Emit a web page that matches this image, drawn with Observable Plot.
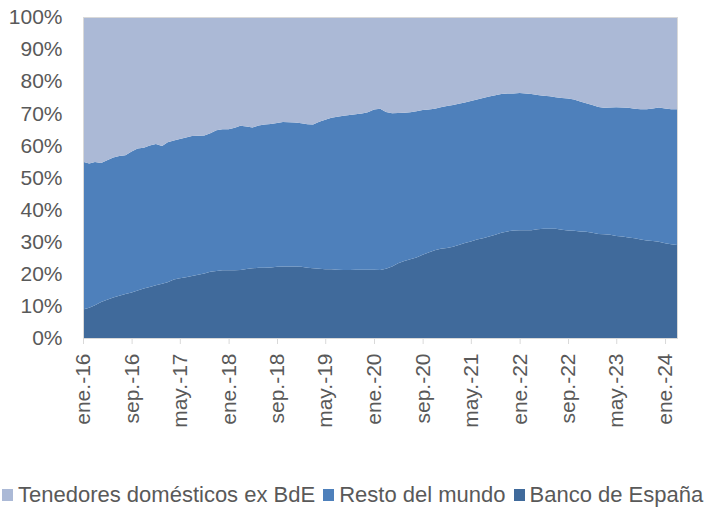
<!DOCTYPE html>
<html>
<head>
<meta charset="utf-8">
<script src="https://cdn.jsdelivr.net/npm/d3@7"></script>
<script src="https://cdn.jsdelivr.net/npm/@observablehq/plot@0.6"></script>
<style>
  html, body { margin: 0; padding: 0; background: #fff; }
  body { width: 705px; height: 510px; overflow: hidden; font-family: "Liberation Sans", Arial, sans-serif; }
  #chart svg text { fill: #595959; }
  #legend { display: flex; align-items: center; margin-top: 42px; margin-left: 2px; font-size: 22px; color: #595959; white-space: nowrap; line-height: 26px; }
  #legend .item { display: flex; align-items: center; margin-right: 8px; }
  #legend .sw { width: 11px; height: 12px; margin-right: 5px; display: inline-block; }
</style>
</head>
<body>
<div id="chart"></div>
<div id="legend"></div>
<script>
// Series names (stack order bottom -> top)
const seriesNames = ["Banco de España", "Resto del mundo", "Tenedores domésticos ex BdE"];
const seriesColors = ["#406a9b", "#4e80bb", "#abb9d6"];

// Monthly shares (%), ene-16 ... mar-24
const bancoEspana = [
  8.9, 9.4, 10.2, 11.2, 11.9, 12.6, 13.2, 13.7, 14.2, 14.8,
  15.4, 15.9, 16.4, 16.9, 17.4, 18.2, 18.6, 18.9, 19.3, 19.7,
  20.1, 20.6, 20.9, 21.1, 21.1, 21.1, 21.2, 21.5, 21.7, 21.9,
  21.9, 22.0, 22.2, 22.3, 22.3, 22.3, 22.2, 21.9, 21.7, 21.6,
  21.4, 21.4, 21.3, 21.2, 21.2, 21.3, 21.3, 21.3, 21.3, 21.2,
  21.6, 22.3, 23.3, 24.0, 24.5, 25.1, 25.9, 26.6, 27.3, 27.8,
  28.0, 28.4, 29.0, 29.6, 30.1, 30.7, 31.1, 31.6, 32.2, 32.8,
  33.2, 33.5, 33.6, 33.6, 33.6, 33.9, 34.0, 34.0, 34.0, 33.7,
  33.5, 33.4, 33.2, 33.1, 32.8, 32.4, 32.3, 32.2, 31.8, 31.6,
  31.3, 31.1, 30.7, 30.4, 30.2, 30.0, 29.5, 29.2, 29.0
];
const restoMundo = [
  46.0, 45.0, 44.6, 43.3, 43.5, 43.6, 43.5, 43.2, 43.9, 44.2,
  43.9, 44.1, 44.0, 42.9, 43.6, 43.3, 43.4, 43.6, 43.6, 43.3,
  43.0, 43.2, 43.8, 43.9, 43.9, 44.4, 44.9, 44.4, 43.9, 44.3,
  44.6, 44.7, 44.8, 45.0, 44.9, 44.8, 44.7, 44.7, 44.8, 45.8,
  46.6, 47.2, 47.6, 48.0, 48.3, 48.4, 48.6, 49.0, 49.9, 50.2,
  48.8, 47.7, 46.8, 46.2, 45.8, 45.5, 45.1, 44.6, 44.1, 44.1,
  44.3, 44.2, 44.0, 43.8, 43.7, 43.6, 43.7, 43.6, 43.4, 43.2,
  43.0, 42.7, 42.7, 42.6, 42.4, 41.8, 41.5, 41.3, 41.0, 41.1,
  41.1, 40.9, 40.5, 40.0, 39.8, 39.6, 39.4, 39.6, 40.1, 40.2,
  40.4, 40.3, 40.6, 40.9, 41.3, 41.8, 42.0, 42.1, 42.3
];
const tenedores = [
  45.1, 45.6, 45.2, 45.5, 44.6, 43.8, 43.3, 43.1, 41.9, 41.0,
  40.7, 40.0, 39.6, 40.2, 39.0, 38.5, 38.0, 37.5, 37.1, 37.0,
  36.9, 36.2, 35.3, 35.0, 35.0, 34.5, 33.9, 34.1, 34.4, 33.8,
  33.5, 33.3, 33.0, 32.7, 32.8, 32.9, 33.1, 33.4, 33.5, 32.6,
  32.0, 31.4, 31.1, 30.8, 30.5, 30.3, 30.1, 29.7, 28.8, 28.6,
  29.6, 30.0, 29.9, 29.8, 29.7, 29.4, 29.0, 28.8, 28.6, 28.1,
  27.7, 27.4, 27.0, 26.6, 26.2, 25.7, 25.2, 24.8, 24.4, 24.0,
  23.8, 23.8, 23.7, 23.8, 24.0, 24.3, 24.5, 24.7, 25.0, 25.2,
  25.4, 25.7, 26.3, 26.9, 27.4, 28.0, 28.3, 28.2, 28.1, 28.2,
  28.3, 28.6, 28.7, 28.7, 28.5, 28.2, 28.5, 28.7, 28.7
];

// X tick labels (every 8 months)
const tickLabels = ["ene.-16", "sep.-16", "may.-17", "ene.-18", "sep.-18", "may.-19",
  "ene.-20", "sep.-20", "may.-21", "ene.-22", "sep.-22", "may.-23", "ene.-24"];
const tickDates = [
  "2016-01-01", "2016-09-01", "2017-05-01", "2018-01-01", "2018-09-01", "2019-05-01",
  "2020-01-01", "2020-09-01", "2021-05-01", "2022-01-01", "2022-09-01", "2023-05-01", "2024-01-01"
].map(s => new Date(s + "T00:00:00Z"));

const yTicks = [0, 0.1, 0.2, 0.3, 0.4, 0.5, 0.6, 0.7, 0.8, 0.9, 1];

const start = new Date(Date.UTC(2016, 0, 1));
const dates = d3.utcMonth.range(start, d3.utcMonth.offset(start, bancoEspana.length));
const seriesValues = [bancoEspana, restoMundo, tenedores];

const data = [];
seriesNames.forEach((name, si) => {
  seriesValues[si].forEach((v, i) => data.push({ date: dates[i], series: name, value: v }));
});

const labelByTime = new Map(tickDates.map((d, i) => [+d, tickLabels[i]]));

const chart = Plot.plot({
  width: 705,
  height: 440,
  marginTop: 17,
  marginBottom: 102,
  marginLeft: 83,
  marginRight: 28,
  style: { fontFamily: "Liberation Sans, Arial, sans-serif", fontSize: "21px", color: "#595959", background: "#fff" },
  x: { type: "utc", domain: [dates[0], dates[dates.length - 1]], label: null },
  y: { domain: [0, 1], label: null },
  color: { domain: seriesNames, range: seriesColors },
  marks: [
    Plot.areaY(data, Plot.stackY({
      x: "date", y: "value", z: "series", fill: "series",
      order: seriesNames, offset: "normalize"
    })),
    Plot.frame({ stroke: "#d9d9d9", strokeWidth: 1 }),
    Plot.axisY({ ticks: yTicks, tickFormat: d3.format(".0%"), tickSize: 0, tickPadding: 21, fontSize: 21, label: null }),
    Plot.axisX({ ticks: tickDates, tickFormat: d => labelByTime.get(+d), tickRotate: -90,
      tickSize: 6, tickPadding: 9, stroke: "#d9d9d9", fontSize: 21, label: null })
  ]
});
document.getElementById("chart").appendChild(chart);

// Legend (HTML, below the SVG)
const legend = document.getElementById("legend");
const legendOrder = [2, 1, 0];
legendOrder.forEach(i => {
  const item = document.createElement("span");
  item.className = "item";
  const sw = document.createElement("span");
  sw.className = "sw";
  sw.style.background = seriesColors[i];
  const tx = document.createElement("span");
  tx.textContent = seriesNames[i];
  item.appendChild(sw);
  item.appendChild(tx);
  legend.appendChild(item);
});
</script>
</body>
</html>
